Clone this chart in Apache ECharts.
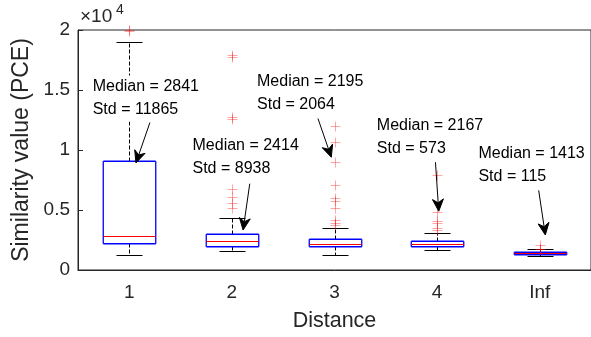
<!DOCTYPE html>
<html>
<head>
<meta charset="utf-8">
<script src="https://cdn.jsdelivr.net/npm/echarts@6/dist/echarts.min.js"></script>
<style>
html,body{margin:0;padding:0;background:#fff;}
#chart{width:591px;height:337px;}
</style>
</head>
<body>
<div id="chart"></div>
<script>
// ---- data ----
const categories = ['1', '2', '3', '4', 'Inf'];
const lowerWhisker = [1264, 1595, 1264, 1628, 1182];
const q1 = [2231, 2041, 2041, 2008, 1330];
const medians = [2841, 2414, 2195, 2167, 1413];
const q3 = [9090, 3000, 2587, 2454, 1500];
const upperWhisker = [19033, 4300, 3471, 3115, 1760];
const stds = [11865, 8938, 2064, 573, 115];

const outliers1 = [19950, 19990];
const outliers2 = [17900, 17750, 12785, 12560, 6750, 6090, 5595, 5140];
const outliers3 = [12008, 10634, 9030, 7107, 6008, 5727, 5180, 4157, 3942, 3744];
const outliers4 = [7933, 4793, 4074, 3884, 3471, 3330];
const outliers5 = [2090, 1790, 1780];

// annotation anchors (category position, value)
const annTextX = [-0.357, 0.616, 1.245, 2.413, 3.403];
const annTextY = [14298, 9388, 14719, 11050, 8736];
const arrowFromX = [0.201, 1.174, 1.839, 2.984, 3.990];
const arrowFromY = [12289, 7190, 12620, 8984, 6636];
const arrowToX = [0.065, 1.109, 1.969, 3.016, 4.055];
const arrowToY = [8926, 3331, 9397, 4901, 2917];

const yTicks = { min: 0, max: 20000, interval: 5000 };

// ---- build ----
const FONT = '"Liberation Sans", Arial, Helvetica, sans-serif';
const AX = '#262626';

const boxData = categories.map((c, k) => [k, lowerWhisker[k], q1[k], medians[k], q3[k], upperWhisker[k]]);
const outlierData = [];
[outliers1, outliers2, outliers3, outliers4, outliers5].forEach((arr, k) => arr.forEach(v => outlierData.push([k, v])));
const annData = categories.map((c, k) => [k, annTextX[k], annTextY[k], arrowFromX[k], arrowFromY[k], arrowToX[k], arrowToY[k], medians[k], stds[k]]);

function crisp(v) { return Math.round(v) + 0.5; }

function ln(x1, y1, x2, y2, stroke, dash, w) {
  const st = { stroke: stroke, lineWidth: w || 1 };
  if (dash) st.lineDash = dash;
  return { type: 'line', shape: { x1: x1, y1: y1, x2: x2, y2: y2 }, style: st };
}

function renderBox(params, api) {
  const i = api.value(0);
  const bw = api.size([1, 0])[0];
  const cx = crisp(api.coord([i, 0])[0]);
  const yLow = crisp(api.coord([i, api.value(1)])[1]);
  const yQ1 = crisp(api.coord([i, api.value(2)])[1]);
  const yMed = crisp(api.coord([i, api.value(3)])[1]);
  const yQ3 = crisp(api.coord([i, api.value(4)])[1]);
  const yHigh = crisp(api.coord([i, api.value(5)])[1]);
  const hb = Math.round(bw * 0.25);
  const hc = Math.round(bw * 0.125);
  const B = '#0000ff';
  const bl = cx - hb - 0.25, br = cx + hb + 0.25;
  const bt = yQ3 - 0.25, bb = yQ1 + 0.25;
  return {
    type: 'group',
    children: [
      ln(cx, yQ3, cx, yHigh, '#000', [4, 2]),
      ln(cx, yQ1, cx, yLow, '#000', [4, 2]),
      ln(cx - hc, yHigh, cx + hc, yHigh, '#000'),
      ln(cx - hc, yLow, cx + hc, yLow, '#000'),
      ln(bl, bt, br, bt, B, null, 1.3),
      ln(bl, bb, br, bb, B, null, 1.3),
      ln(bl, bt, bl, bb, B, null, 1.3),
      ln(br, bt, br, bb, B, null, 1.3),
      ln(cx - hb, yMed, cx + hb, yMed, '#ff0000')
    ]
  };
}

function renderOutlier(params, api) {
  const p = api.coord([api.value(0), api.value(1)]);
  const x = crisp(p[0]), y = crisp(p[1]);
  const s = 5;
  const c = 'rgba(255,0,0,0.35)';
  return {
    type: 'group',
    children: [ln(x - s, y, x + s, y, c), ln(x, y - s, x, y + s, c)]
  };
}

function renderAnn(params, api) {
  const bw = api.size([1, 0])[0];
  const x0 = api.coord([0, 0])[0];
  const px = xf => x0 + xf * bw;
  const py = v => api.coord([0, v])[1];
  const tx = px(api.value(1)), ty = py(api.value(2));
  const fx = px(api.value(3)), fy = py(api.value(4));
  const ex = px(api.value(5)), ey = py(api.value(6));
  const dx = ex - fx, dy = ey - fy;
  const len = Math.sqrt(dx * dx + dy * dy);
  const ux = dx / len, uy = dy / len;
  const nx = -uy, ny = ux;
  const hl = 12, hw = 5.5;
  const bx = ex - ux * hl, by = ey - uy * hl;
  const kx = ex - ux * hl * 0.7, ky = ey - uy * hl * 0.7;
  return {
    type: 'group',
    children: [
      { type: 'text', x: tx, y: ty, style: {
          text: 'Median = ' + api.value(7) + '\nStd = ' + api.value(8),
          fontFamily: FONT, fontSize: 16, fill: '#000', align: 'left', verticalAlign: 'middle',
          lineHeight: 23, backgroundColor: '#fff' } },
      ln(fx, fy, kx, ky, '#000'),
      { type: 'polygon', shape: { points: [[ex, ey], [bx + nx * hw, by + ny * hw], [kx, ky], [bx - nx * hw, by - ny * hw]] },
        style: { fill: '#000', stroke: '#000', lineWidth: 1 } }
    ]
  };
}

const chart = echarts.init(document.getElementById('chart'), null, { renderer: 'canvas' });
chart.setOption({
  animation: false,
  backgroundColor: '#fff',
  textStyle: { fontFamily: FONT },
  grid: { left: 78, top: 30, width: 514, height: 242, show: true, borderColor: AX, borderWidth: 1, backgroundColor: 'transparent' },
  xAxis: {
    type: 'category',
    data: categories,
    boundaryGap: true,
    name: 'Distance',
    nameLocation: 'middle',
    nameGap: 40,
    nameTextStyle: { fontSize: 21.5, color: AX, fontFamily: FONT },
    axisLine: { lineStyle: { color: AX, width: 1 } },
    axisTick: { inside: true, alignWithLabel: true, length: 5, lineStyle: { color: AX } },
    axisLabel: { fontSize: 19, color: AX, margin: 13, fontFamily: FONT },
    splitLine: { show: false }
  },
  yAxis: {
    type: 'value',
    min: yTicks.min, max: yTicks.max, interval: yTicks.interval,
    name: 'Similarity value (PCE)',
    nameLocation: 'middle',
    nameGap: 43,
    nameTextStyle: { fontSize: 23, color: AX, fontFamily: FONT },
    axisLine: { show: true, lineStyle: { color: AX, width: 1 } },
    axisTick: { show: true, inside: true, length: 5, lineStyle: { color: AX } },
    axisLabel: { fontSize: 19, color: AX, margin: 8, fontFamily: FONT, formatter: v => String(v / 10000) },
    splitLine: { show: false }
  },
  graphic: [
    { type: 'text', left: 80, top: 7, style: { text: '×10', fontSize: 19, fontFamily: FONT, fill: AX } },
    { type: 'text', left: 116, top: 3, style: { text: '4', fontSize: 14, fontFamily: FONT, fill: AX } }
  ],
  series: [
    { type: 'custom', data: boxData, encode: { x: 0, y: [1, 2, 3, 4, 5] }, renderItem: renderBox, z: 2 },
    { type: 'custom', data: outlierData, encode: { x: 0, y: 1 }, renderItem: renderOutlier, z: 3 },
    { type: 'custom', data: annData, encode: { x: 0, y: 2 }, renderItem: renderAnn, z: 4 }
  ]
});
</script>
</body>
</html>
